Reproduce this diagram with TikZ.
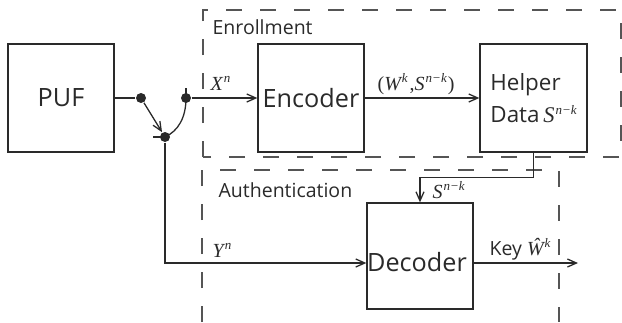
\documentclass[tikz,border=0pt]{standalone}
\usepackage{fontspec}
\setmainfont{Open Sans}
\newfontfamily\tms{Liberation Serif}
\usetikzlibrary{arrows.meta}
\definecolor{ln}{HTML}{2A2A2A}
\definecolor{dsh}{HTML}{555555}
\newcommand\mv[1]{{\fontsize{20}{22}\selectfont\tms\itshape #1}}
\newcommand\mup[1]{{\fontsize{20}{22}\selectfont\tms #1}}
\newcommand\spx[1]{\kern1pt\raisebox{7.5pt}{\fontsize{13}{13}\selectfont\tms\itshape #1}}
\begin{document}
\begin{tikzpicture}[x=1pt,y=-1pt, line width=1.3pt, color=ln,
  blk/.style={draw=ln, line width=1.3pt, minimum width=106pt, minimum height=108pt, inner sep=0pt, font=\fontsize{25.2}{30}\selectfont},
  dot/.style={circle, fill=ln, draw=none, minimum size=10pt, inner sep=0pt},
  lbl/.style={inner sep=0pt, anchor=base west, font=\fontsize{19.5}{22}\selectfont, text=ln},
  arr/.style={-{Straight Barb[length=9pt,width=8pt]}},
  dsd/.style={draw=dsh, dash pattern=on 16pt off 18pt, line width=1.3pt}]
\useasboundingbox (0,0) rectangle (622,322);
% dashed regions
\draw[dsd] (203,157) -- (203,10) -- (621,10) -- (621,157) -- cycle;
\draw[dsd] (202,322) -- (202,170) -- (559,170) -- (559,322);
% blocks
\node[blk] (puf) at (61,98) {PUF};
\node[blk] (enc) at (311,98) {Encoder};
\node[blk, minimum width=107pt, align=left, font=\fontsize{22.4}{32}\selectfont] (hlp) at (533.5,98) {Helper\\Data\,\mv{\fontsize{22.4}{26}\selectfont S}\spx{n−k}};
\node[blk, minimum height=106pt] (dec) at (420,256) {};
\node[inner sep=0pt, anchor=base, font=\fontsize{25.2}{30}\selectfont, text=ln] (dect) at (417,271) {Decoder};
% switch
\node[dot] (d1) at (141,98) {};
\node[dot] (d2) at (186,98) {};
\node[dot] (d3) at (165,137) {};
\draw (puf.east) -- (d1);
\draw[arr] (d1) -- (d3);
\draw (d2.center) .. controls (186,118) and (178,131) .. (d3.center);
\draw (d2.center) -- ++(0,-10);
\draw (d3.center) -- ++(-12,0);
\draw[arr] (d2) -- (enc.west);
\draw[arr] (d3) |- ([yshift=-7pt]dec.west);
\draw[arr] (enc.east) -- (hlp.west);
\draw[arr] (hlp.south) -- ++(0,25) -| (dec.north);
\coordinate (kout) at (578,263);
\draw[arr] ([yshift=-7pt]dec.east) -- (kout);
% labels
\node[lbl] (tenr) at (212,34) {Enrollment};
\node[lbl] (taut) at (218,197) {Authentication};
\node[lbl] (tx) at (210,90) {\mv{X}\spx{n}};
\node[lbl] (tws) at (377,90) {\mup{(}\mv{W}\spx{k}\kern2pt\mup{,}\mv{S}\spx{n−k}\kern1pt\mup{)}};
\node[lbl] (ts) at (432,198) {\mv{S}\spx{n−k}};
\node[lbl] (ty) at (212,257) {\mv{Y}\spx{n}};
\node[lbl] (tk) at (489,255) {Key \mv{Ŵ}\spx{k}};
\end{tikzpicture}
\end{document}
